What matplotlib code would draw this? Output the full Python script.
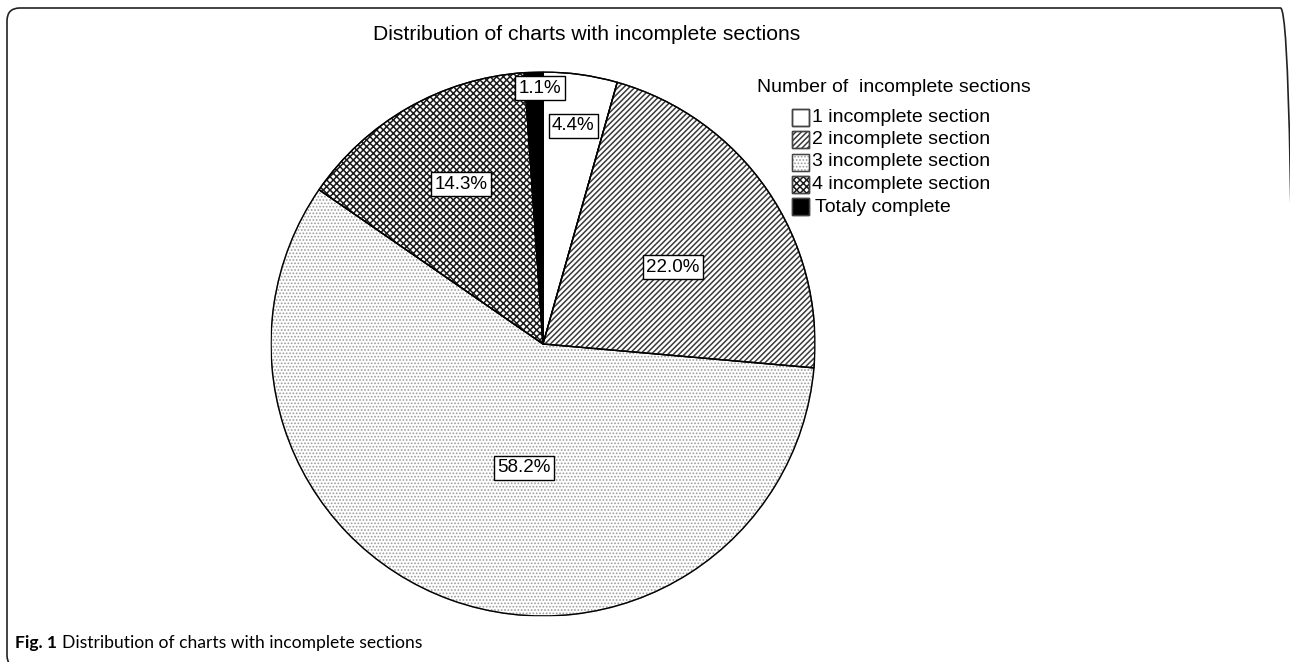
import matplotlib
matplotlib.use("Agg")
import matplotlib.pyplot as plt
from matplotlib.patches import Wedge, Rectangle, FancyBboxPatch
from matplotlib.transforms import IdentityTransform
import numpy as np

# Data
categories = ['1 incomplete section', '2 incomplete section', '3 incomplete section',
              '4 incomplete section', 'Totaly complete']
percent = [4.4, 22.0, 58.2, 14.3, 1.1]

# Styling per slice
face_colors = ['white', 'white', 'white', 'white', 'black']
hatches = ['', '//////', '.....', 'xxxxx', '']
hatch_colors = ['black', '#3a3a3a', '#9a9a9a', '#1a1a1a', 'black']
hatch_widths = [1.0, 1.1, 0.8, 1.1, 1.0]
# label placement (fraction of radius, angular tweak in degrees)
label_r = [0.81, 0.555, 0.46, 0.66, 0.94]
label_shift = [0, -4, 11, -2.5, -1.3]

plt.rcParams['font.family'] = ['Liberation Sans', 'DejaVu Sans']
plt.rcParams['hatch.linewidth'] = 1.1


def set_hatch_style(patch, hatch, color, lw):
    patch.set_hatch(hatch)
    patch.set_edgecolor(color)
    if hasattr(patch, 'set_hatch_linewidth'):
        patch.set_hatch_linewidth(lw)


W, H = 1290, 662
fig = plt.figure(figsize=(W / 100, H / 100), dpi=100)

# pie axes: center (543, 344) px, radius 272 px
cx, cy, r = 543, 344, 272
ax = fig.add_axes([(cx - r) / W, (H - cy - r) / H, 2 * r / W, 2 * r / H])
wedges, _ = ax.pie(percent, startangle=90, counterclock=False, colors=face_colors,
                   wedgeprops=dict(edgecolor='black', linewidth=1.0))
ax.set_xlim(-1, 1)
ax.set_ylim(-1, 1)

for w, h, hc, hw in zip(wedges, hatches, hatch_colors, hatch_widths):
    if h:
        set_hatch_style(w, h, hc, hw)
    # outline on top so the edge stays black
    ax.add_patch(Wedge((0, 0), 1, w.theta1, w.theta2, fill=False,
                       edgecolor='black', linewidth=1.0))

for w, p, lr, sh in zip(wedges, percent, label_r, label_shift):
    mid = np.deg2rad((w.theta1 + w.theta2) / 2 + sh)
    ax.text(lr * np.cos(mid), lr * np.sin(mid), f'{p:.1f}%', ha='center', va='center',
            fontsize=13.5, zorder=5,
            bbox=dict(boxstyle='square,pad=0.18', fc='white', ec='black', lw=1.0))

# chart title
fig.text(587 / W, 1 - 35 / H, 'Distribution of charts with incomplete sections',
         ha='center', va='center', fontsize=15.2)

# legend, drawn by hand
fig.text(757 / W, 1 - 87 / H, 'Number of  incomplete sections', ha='left', va='center',
         fontsize=14)
for i, (lab, fc, h, hc, hw) in enumerate(zip(categories, face_colors, hatches,
                                             hatch_colors, hatch_widths)):
    yc = 117 + 22.5 * i
    x0, y0 = 792 / W, 1 - (yc + 8.5) / H
    box = Rectangle((x0, y0), 17 / W, 17 / H, transform=fig.transFigure,
                    facecolor=fc, edgecolor=hc, linewidth=1.0)
    if h:
        set_hatch_style(box, h, hc, hw)
    fig.add_artist(box)
    fig.add_artist(Rectangle((x0, y0), 17 / W, 17 / H, transform=fig.transFigure,
                             fill=False, edgecolor='#444444', linewidth=1.0))
    fig.text(812 / W if i < 4 else 815 / W, 1 - yc / H, lab, ha='left', va='center',
             fontsize=14)

# rounded frame around the panel (display pixels, origin bottom-left)
frame = FancyBboxPatch((7, -6), 1293.5 - 7, 654 + 6,
                       boxstyle='round,pad=0,rounding_size=13', transform=IdentityTransform(),
                       fill=False, edgecolor='#222222', linewidth=1.2)
fig.add_artist(frame)

# caption: bold "Fig. 1" then regular text
renderer = fig.canvas.get_renderer()
t1 = fig.text(15 / W, 1 - 643 / H, 'Fig. 1', ha='left', va='center', fontsize=12.6,
              fontweight='bold', family='Lato')
bb = t1.get_window_extent(renderer)
fig.text((bb.x1 + 5) / W, 1 - 643 / H, 'Distribution of charts with incomplete sections',
         ha='left', va='center', fontsize=12.6, family='Lato')

fig.savefig('out.png', dpi=100)
